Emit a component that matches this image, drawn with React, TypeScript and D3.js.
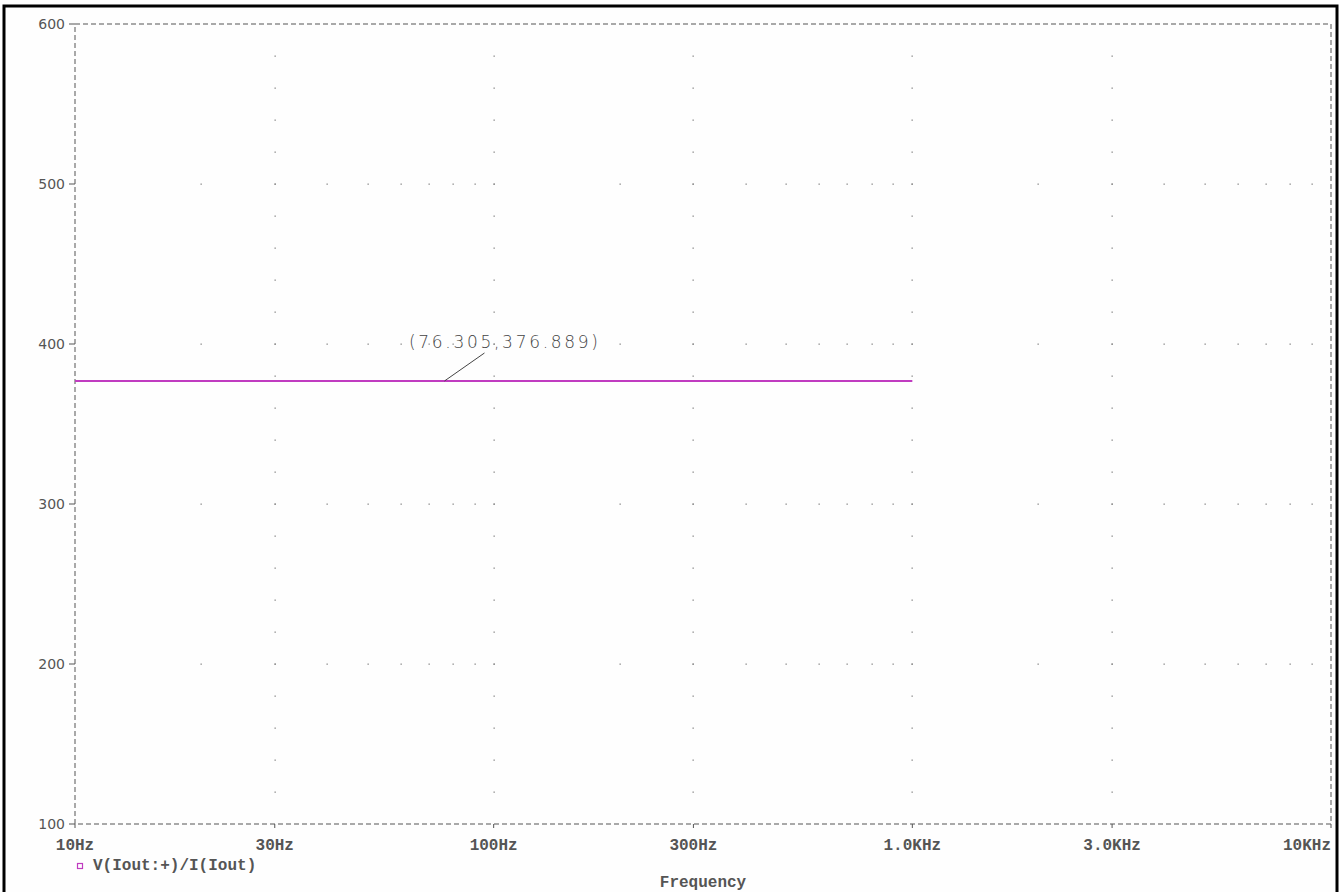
import React from "react";
import * as d3 from "d3";

// AC sweep result: impedance seen at the output port
const frequencies = [10, 20, 50, 100, 200, 500, 1000];
const impedance = [376.889, 376.889, 376.889, 376.889, 376.889, 376.889, 376.889];

const xTickValues = [10, 30, 100, 300, 1000, 3000, 10000];
const xTickLabels = ["10Hz", "30Hz", "100Hz", "300Hz", "1.0KHz", "3.0KHz", "10KHz"];
const yTickValues = [100, 200, 300, 400, 500, 600];

const cursorPoint = { x: 76.305, y: 376.889 };
const traceName = "V(Iout:+)/I(Iout)";
const xTitle = "Frequency";

const W = 1342;
const H = 892;
const left = 75;
const right = 1331;
const top = 24;
const bottom = 824;
const axisColor = "#555";
const traceColor = "#c03cc0";

export default function App() {
  const x = d3.scaleLog().domain([10, 10000]).range([left, right]);
  const y = d3.scaleLinear().domain([100, 600]).range([bottom, top]);

  // grid dot columns at decades and 3x points, rows at each y major
  const dotCols = [30, 100, 300, 1000, 3000];
  const colDots: [number, number][] = [];
  dotCols.forEach((f) => {
    for (let v = 120; v <= 580; v += 20) colDots.push([x(f), y(v)]);
  });
  const rowVals = [200, 300, 400, 500];
  const minorFreqs: number[] = [];
  [10, 100, 1000].forEach((d) => {
    for (let m = 2; m <= 10; m++) {
      const f = d * m;
      if (f < 10000) minorFreqs.push(f);
    }
  });
  const rowDots: [number, number][] = [];
  rowVals.forEach((v) => minorFreqs.forEach((f) => rowDots.push([x(f), y(v)])));

  const line = d3
    .line<number>()
    .x((_, i) => x(frequencies[i]))
    .y((d) => y(d));

  const cx = x(cursorPoint.x);
  const cy = y(cursorPoint.y);

  return (
    <svg
      width={W}
      height={H}
      style={{ position: "absolute", left: 0, top: 0, background: "#fff" }}
    >
      <rect x={4} y={6} width={1333} height={900} fill="#fefefe" stroke="#000" strokeWidth={3} />

      {/* dotted grid */}
      {colDots.concat(rowDots).map(([px, py], i) => (
        <rect key={i} x={Math.round(px) - 0.5} y={Math.round(py) - 0.5} width={1.3} height={1.3} fill="#888" />
      ))}

      {/* dashed frame */}
      <rect
        x={left}
        y={top}
        width={right - left}
        height={bottom - top}
        fill="none"
        stroke={axisColor}
        strokeWidth={1}
        strokeDasharray="5,3"
      />

      {/* y axis ticks and labels */}
      {yTickValues.map((v) => (
        <g key={v}>
          <line x1={left - 6} x2={left} y1={y(v)} y2={y(v)} stroke={axisColor} />
          <text
            x={left - 10}
            y={y(v) + 5}
            textAnchor="end"
            fontFamily="DejaVu Sans"
            fontSize={14}
            fill={axisColor}
          >
            {v}
          </text>
        </g>
      ))}

      {/* x axis ticks and labels */}
      {xTickValues.map((f, i) => {
        const last = i === xTickValues.length - 1;
        return (
          <g key={f}>
            <line x1={x(f)} x2={x(f)} y1={bottom} y2={bottom + 4} stroke={axisColor} />
            <text
              x={last ? right : x(f)}
              y={850}
              textAnchor={last ? "end" : "middle"}
              fontFamily="Liberation Mono"
              fontSize={16}
              fontWeight={600}
              fill={axisColor}
            >
              {xTickLabels[i]}
            </text>
          </g>
        );
      })}

      {/* trace */}
      <path d={line(impedance) ?? ""} fill="none" stroke={traceColor} strokeWidth={2} />

      {/* cursor label */}
      <line x1={cx} y1={cy} x2={cx + 40} y2={cy - 28} stroke="#444" strokeWidth={1} />
      <text
        x={409}
        y={348}
        fontFamily="DejaVu Sans"
        fontWeight={200}
        fontSize={17}
        letterSpacing={2.7}
        fill="#444"
      >
        {`(${cursorPoint.x.toFixed(3)},${cursorPoint.y.toFixed(3)})`}
      </text>

      {/* legend */}
      <rect x={77.5} y={863.5} width={5} height={5} fill="none" stroke={traceColor} strokeWidth={1.2} />
      <text x={93} y={870} fontFamily="Liberation Mono" fontSize={16} fontWeight={600} fill={axisColor}>
        {traceName}
      </text>

      <text
        x={(left + right) / 2}
        y={887}
        textAnchor="middle"
        fontFamily="Liberation Mono"
        fontSize={16}
        fontWeight={600}
        fill={axisColor}
      >
        {xTitle}
      </text>
    </svg>
  );
}
